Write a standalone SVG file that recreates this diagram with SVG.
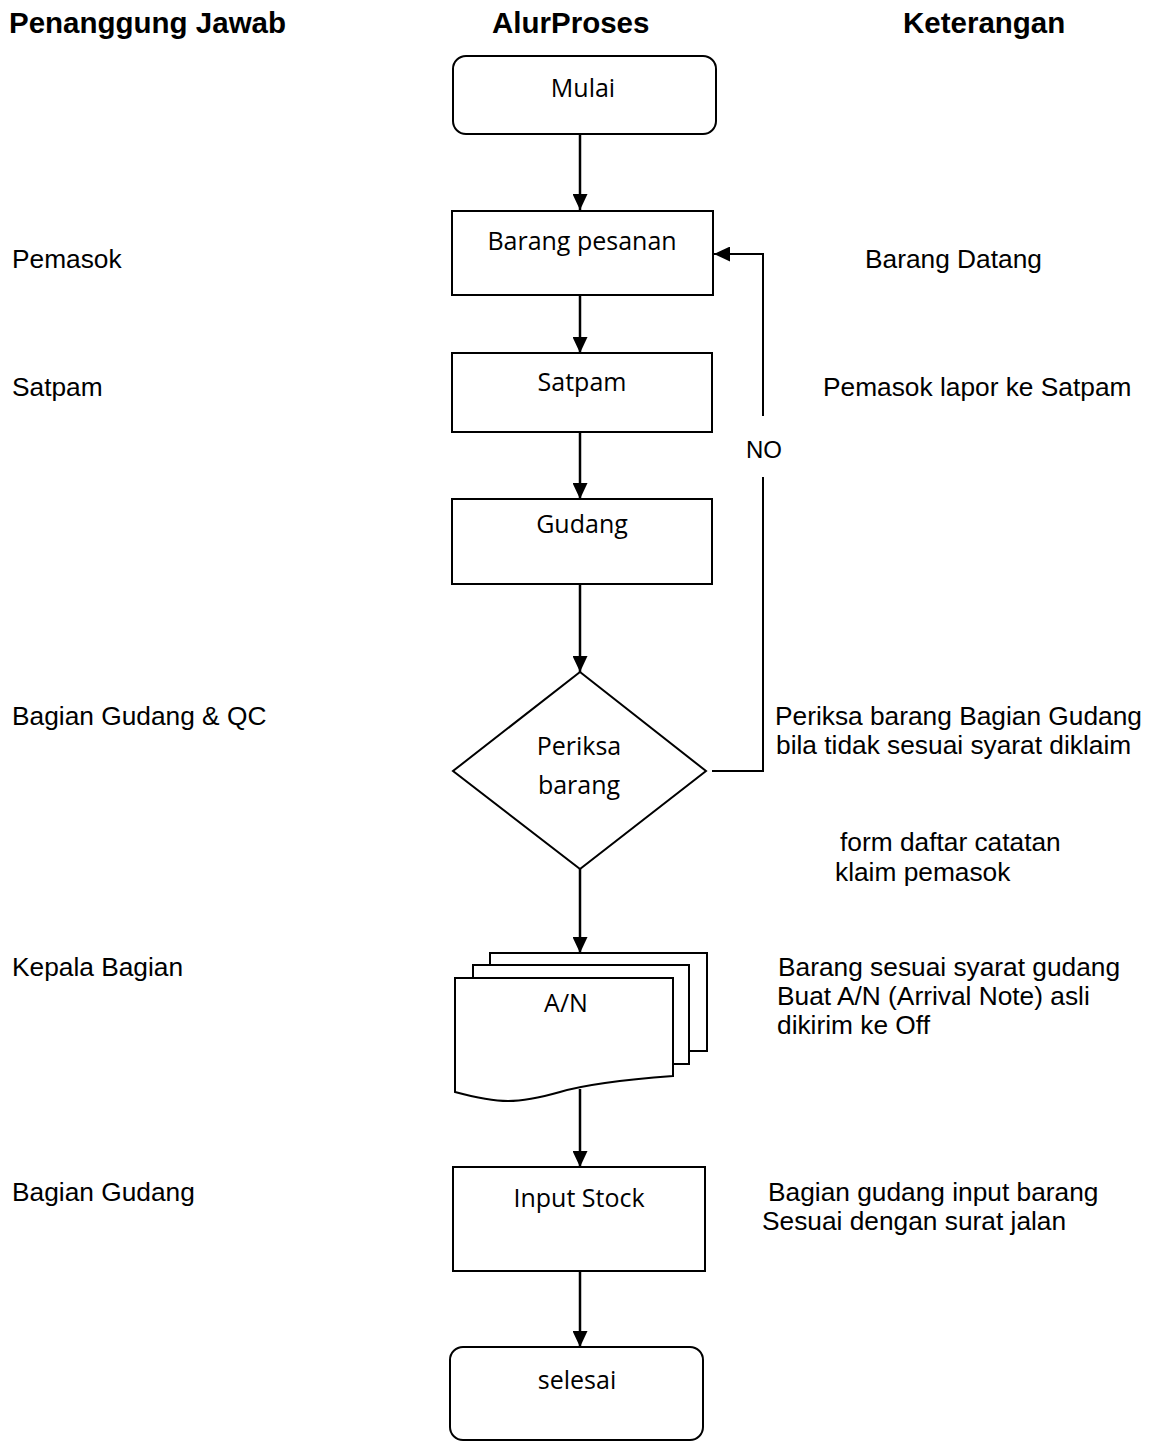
<svg xmlns="http://www.w3.org/2000/svg" width="1159" height="1442" viewBox="0 0 1159 1442">
<style>
.hdr{font-family:"Liberation Sans",Arial,sans-serif;font-weight:bold;font-size:29.5px;fill:#000}
.lbl{font-family:"Liberation Sans",Arial,sans-serif;font-size:26.3px;fill:#000}
.box{fill:#fff;stroke:#000;stroke-width:2}
.btxt{font-family:"Open Sans","Noto Sans",sans-serif;font-size:25px;fill:#000;text-anchor:middle}
.con{fill:none;stroke:#000;stroke-width:2.5}
</style>
<defs>
<marker id="arr" markerWidth="16" markerHeight="15" refX="16" refY="7.5" orient="auto" markerUnits="userSpaceOnUse">
<path d="M0,0 L16,7.5 L0,15 Z" fill="#000"/>
</marker>
</defs>
<rect width="1159" height="1442" fill="#fff"/>

<g id="headers">
<text class="hdr" x="9" y="33">Penanggung Jawab</text>
<text class="hdr" x="492" y="33">AlurProses</text>
<text class="hdr" x="903" y="33">Keterangan</text>
</g>

<g id="left-labels">
<text class="lbl" x="12" y="268">Pemasok</text>
<text class="lbl" x="12" y="396">Satpam</text>
<text class="lbl" x="12" y="725">Bagian Gudang &amp; QC</text>
<text class="lbl" x="12" y="976">Kepala Bagian</text>
<text class="lbl" x="12" y="1201">Bagian Gudang</text>
</g>

<g id="right-labels">
<text class="lbl" x="865" y="268">Barang Datang</text>
<text class="lbl" x="823" y="396">Pemasok lapor ke Satpam</text>
<text class="lbl" x="775" y="725">Periksa barang Bagian Gudang</text>
<text class="lbl" x="776" y="754">bila tidak sesuai syarat diklaim</text>
<text class="lbl" x="840" y="851">form daftar catatan</text>
<text class="lbl" x="835" y="881">klaim pemasok</text>
<text class="lbl" x="778" y="976">Barang sesuai syarat gudang</text>
<text class="lbl" x="777" y="1005">Buat A/N (Arrival Note) asli</text>
<text class="lbl" x="777" y="1034">dikirim ke Off</text>
<text class="lbl" x="768" y="1201">Bagian gudang input barang</text>
<text class="lbl" x="762" y="1230">Sesuai dengan surat jalan</text>
</g>

<g id="connectors">
<line class="con" x1="580" y1="134" x2="580" y2="210" marker-end="url(#arr)"/>
<line class="con" x1="580" y1="295" x2="580" y2="353" marker-end="url(#arr)"/>
<line class="con" x1="580" y1="432" x2="580" y2="499" marker-end="url(#arr)"/>
<line class="con" x1="580" y1="584" x2="580" y2="672" marker-end="url(#arr)"/>
<line class="con" x1="580" y1="869" x2="580" y2="953" marker-end="url(#arr)"/>
<line class="con" x1="580" y1="1089" x2="580" y2="1167" marker-end="url(#arr)"/>
<line class="con" x1="580" y1="1271" x2="580" y2="1347" marker-end="url(#arr)"/>
<polyline fill="none" stroke="#000" stroke-width="2" points="712,771 763,771 763,477"/>
<polyline fill="none" stroke="#000" stroke-width="2" points="763,416 763,254 714,254" marker-end="url(#arr)"/>
<text x="764" y="458" style="font-family:'Liberation Sans',Arial,sans-serif;font-size:24px;text-anchor:middle">NO</text>
</g>

<g id="mulai">
<rect class="box" x="453" y="56" width="263" height="78" rx="13"/>
<text class="btxt" x="583" y="97">Mulai</text>
</g>
<g id="barang-pesanan">
<rect class="box" x="452" y="211" width="261" height="84"/>
<text class="btxt" x="582" y="250">Barang pesanan</text>
</g>
<g id="satpam">
<rect class="box" x="452" y="353" width="260" height="79"/>
<text class="btxt" x="582" y="391">Satpam</text>
</g>
<g id="gudang">
<rect class="box" x="452" y="499" width="260" height="85"/>
<text class="btxt" x="582" y="533">Gudang</text>
</g>
<g id="periksa-barang">
<polygon class="box" points="580,672 706,771 580,869 453,771"/>
<text class="btxt" x="579" y="755">Periksa</text>
<text class="btxt" x="579" y="794">barang</text>
</g>
<g id="an-document">
<rect class="box" x="490" y="953" width="217" height="98"/>
<rect class="box" x="473" y="965" width="216" height="99"/>
<path class="box" d="M455,978 L673,978 L673,1076 C620,1080 580,1086 560,1092 C535,1099 520,1101 508,1101 C490,1101 470,1096 455,1092 Z"/>
<text class="btxt" x="566" y="1012">A/N</text>
</g>
<g id="input-stock">
<rect class="box" x="453" y="1167" width="252" height="104"/>
<text class="btxt" x="579" y="1207">Input Stock</text>
</g>
<g id="selesai">
<rect class="box" x="450" y="1347" width="253" height="93" rx="13"/>
<text class="btxt" x="577" y="1389">selesai</text>
</g>
</svg>
